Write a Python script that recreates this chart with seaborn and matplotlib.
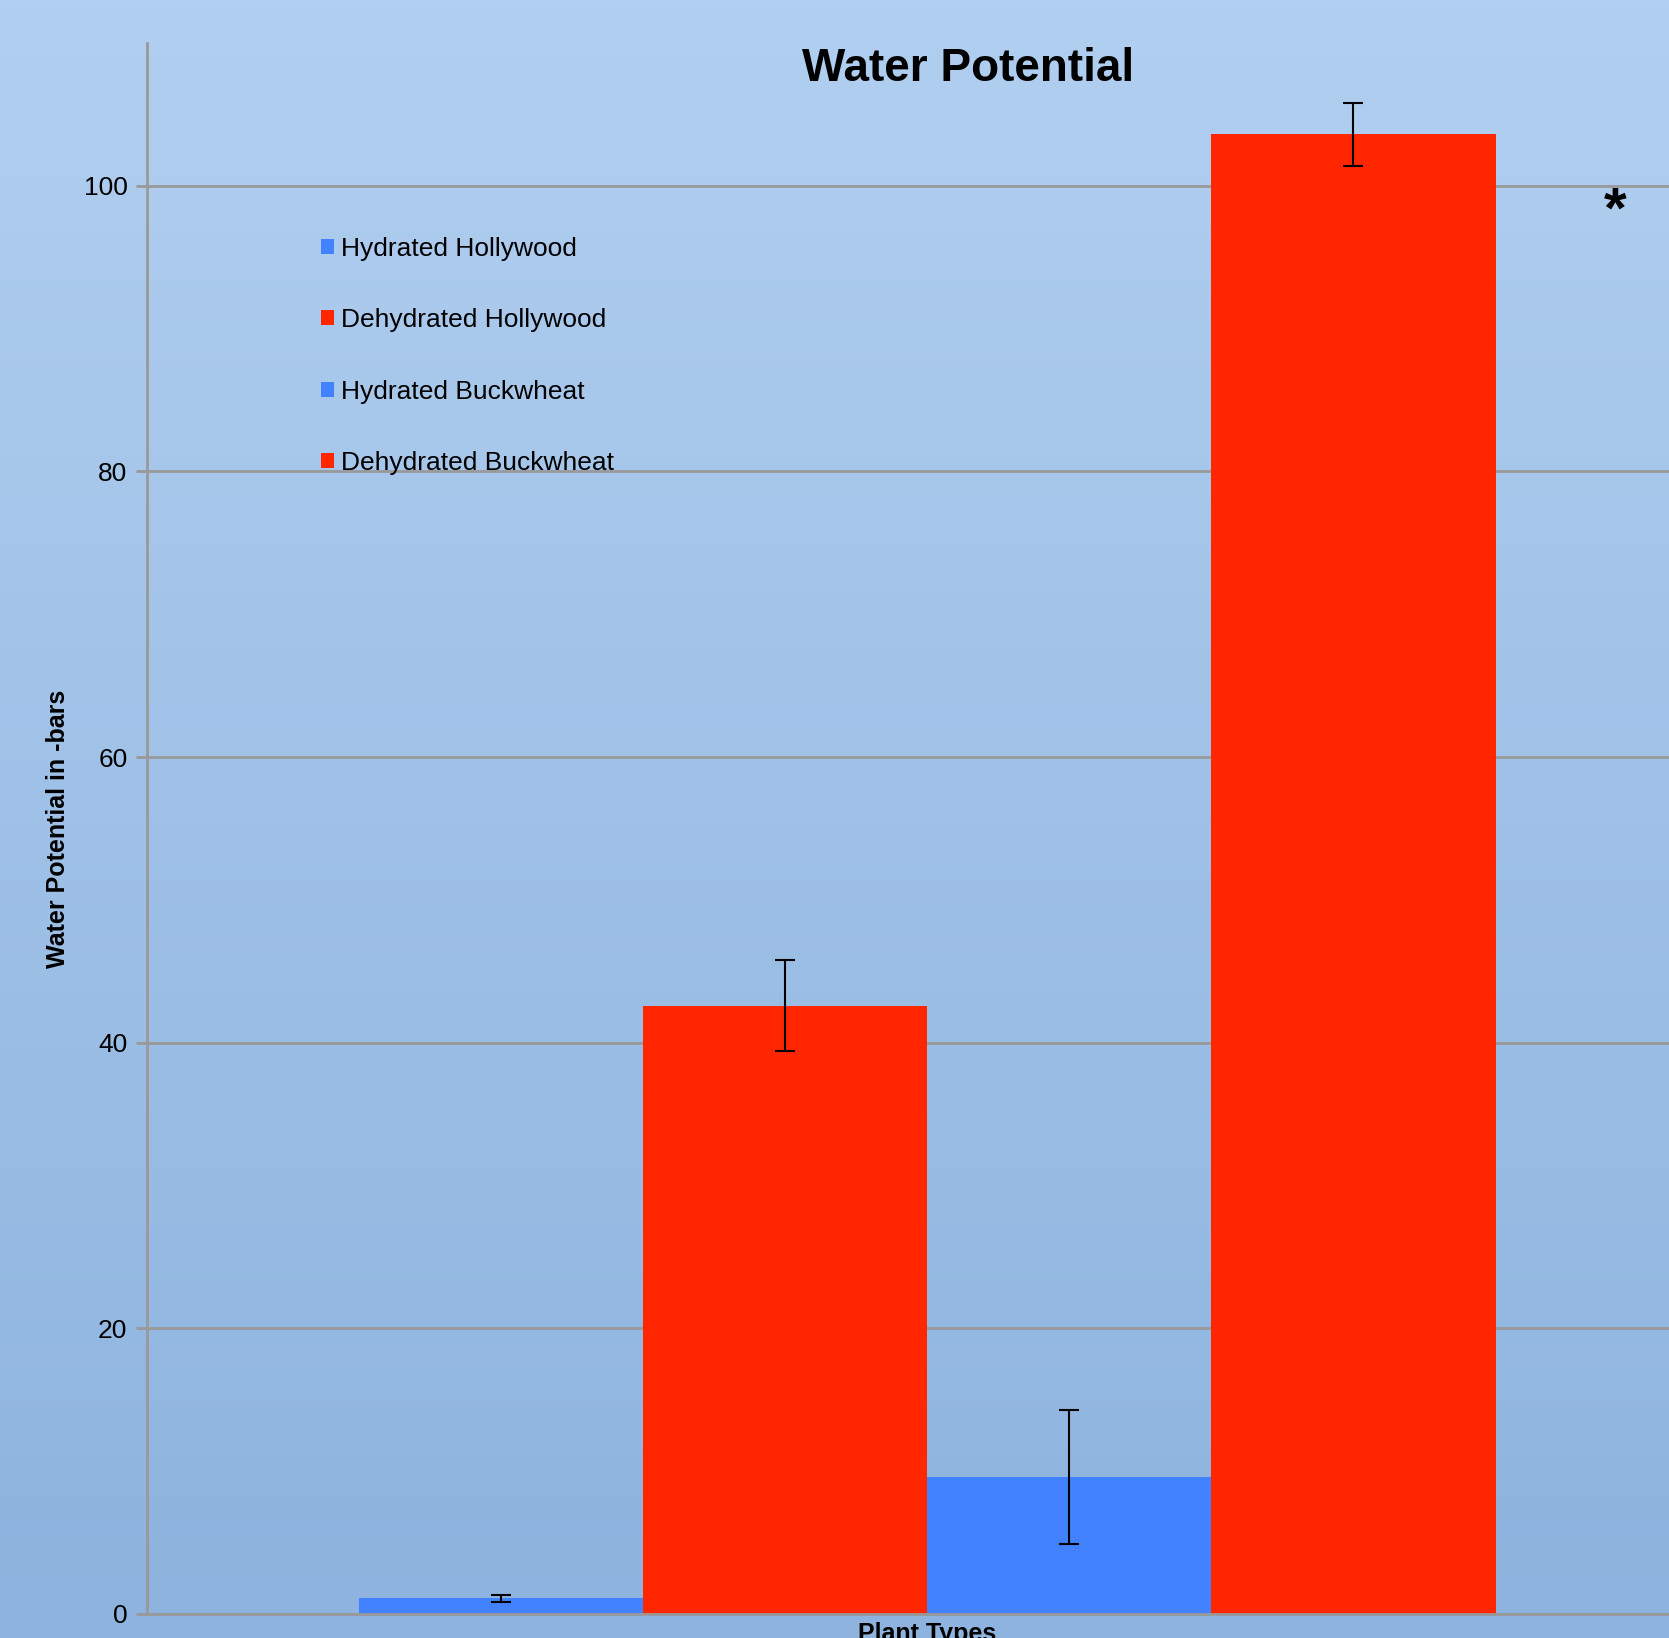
import pandas as pd
import seaborn as sns
import matplotlib.pyplot as plt
import numpy as np

sns.set_theme(style="white")
plt.rcParams['font.family'] = ['Liberation Sans', 'DejaVu Sans']
plt.rcParams['text.color'] = 'black'

# 数据
group = ["Plant Types"]
series = ["Hydrated Hollywood", "Dehydrated Hollywood", "Hydrated Buckwheat", "Dehydrated Buckwheat"]
values = [1.1, 42.6, 9.6, 103.6]
errors = [0.25, 3.2, 4.7, 2.2]
colors = ["#4282FF", "#FF2600", "#4282FF", "#FF2600"]

df = pd.DataFrame({"group": group * len(series), "series": series, "value": values})

fig = plt.figure(figsize=(16.69, 16.38), dpi=100)

# 背景渐变
bg = fig.add_axes([0, 0, 1, 1], zorder=-1)
top = np.array([177, 207, 240]) / 255
bot = np.array([141, 179, 222]) / 255
t = np.linspace(0, 1, 256)[:, None]
grad = top[None, :] * (1 - t) + bot[None, :] * t
bg.imshow(grad[:, None, :], aspect="auto", extent=[0, 1, 0, 1])
bg.axis("off")

ax = fig.add_axes([0.088, 0.0147, 0.912, 0.959])
ax.set_facecolor("none")

sns.barplot(data=df, x="group", y="value", hue="series", palette=colors,
            saturation=1, width=0.8, errorbar=None, ax=ax, zorder=2, linewidth=0)

# 误差线
xs = [p.get_x() + p.get_width() / 2 for p in ax.patches[:len(series)]]
ax.errorbar(xs, values, yerr=errors, fmt="none", ecolor="black",
            elinewidth=1.5, capsize=7, capthick=1.5, zorder=3)

ax.set_xlim(-0.549, 0.522)
ax.set_ylim(0, 110)
ax.set_yticks([0, 20, 40, 60, 80, 100])
ax.yaxis.grid(True, color="#999999", linewidth=2, zorder=0)
ax.set_axisbelow(True)
for s in ["top", "right"]:
    ax.spines[s].set_visible(False)
for s in ["left", "bottom"]:
    ax.spines[s].set_color("#999999")
    ax.spines[s].set_linewidth(2)
ax.tick_params(axis="y", left=True, length=8, width=2, color="#999999",
               labelsize=19, pad=6, labelcolor="black")
ax.tick_params(axis="x", length=0, pad=6, labelsize=18, labelcolor="black")
for lbl in ax.get_xticklabels():
    lbl.set_fontweight("bold")
ax.set_xlabel("")
ax.set_ylabel("Water Potential in -bars", fontsize=18, fontweight="bold",
              labelpad=10, color="black")

leg = ax.legend(loc="upper left", bbox_to_anchor=(0.186, 0.862), bbox_transform=fig.transFigure,
                frameon=False, fontsize=19, handlelength=0.5, handleheight=0.5,
                handletextpad=0.25, labelspacing=1.8, borderaxespad=0)
for h in leg.legend_handles:
    h.set_linewidth(0)
for txt in leg.get_texts():
    txt.set_color("black")

fig.text(0.58, 0.958, "Water Potential", ha="center", va="center", fontsize=33, fontweight="bold")
fig.text(0.968, 0.87, "*", ha="center", va="center", fontsize=42, fontweight="bold")

fig.savefig("out.png", dpi=100)
